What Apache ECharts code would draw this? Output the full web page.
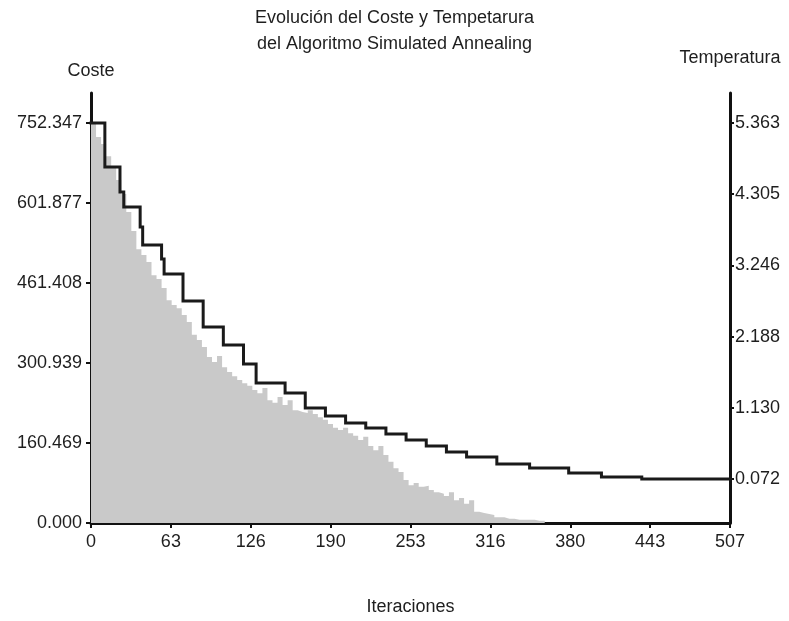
<!DOCTYPE html>
<html>
<head>
<meta charset="utf-8">
<script src="https://cdn.jsdelivr.net/npm/echarts@6/dist/echarts.min.js"></script>
<style>
html,body{margin:0;padding:0;background:#fff;}
#chart{width:789px;height:621px;}
</style>
</head>
<body>
<div id="chart"></div>
<script>
// ---- data ----
var titleText = 'Evolución del Coste y Tempetarura\ndel Algoritmo Simulated Annealing';
var xName = 'Iteraciones';
var leftName = 'Coste';
var rightName = 'Temperatura';

var xTickLabels = ['0','63','126','190','253','316','380','443','507'];
var xMax = 507;
var costTickLabels = ['0.000','160.469','300.939','461.408','601.877','752.347'];
var costMax = 752.347;
var tempTickLabels = ['0.072','1.130','2.188','3.246','4.305','5.363'];
var tempMin = 0.072, tempTop = 5.363;

// cost sampled every 4 iterations (0..360), then zero to the end
var costSampleStep = 4;
var costValues = [752,726,713,690,668,645,619,585,549,515,
  504,491,466,459,442,419,410,404,391,378,
  354,344,331,312,303,314,293,284,276,269,
  263,258,250,244,254,231,226,237,222,231,
  212,209,207,212,205,199,194,186,179,175,
  179,169,164,156,162,145,137,145,128,115,
  103,96,81,71,75,68,70,62,58,55,
  51,58,43,47,36,43,21,19,17,15,
  11,11,8,8,6,6,6,6,4,4,
  0];

var tempIterations = [0,11,23,26,39,41,56,58,73,89,105,121,131,154,170,186,202,218,234,250,266,282,298,322,348,379,405,437,507];
var tempValues = [5.363,4.709,4.338,4.115,3.818,3.550,3.342,3.119,2.718,2.331,2.064,1.781,1.499,1.350,1.127,1.008,0.904,0.830,0.741,0.652,0.563,0.473,0.399,0.295,0.235,0.161,0.102,0.072,0.072];

// ---- build ----
var costData = costValues.map(function(v,i){return [i*costSampleStep, v];});
costData.push([xMax, 0]);
var tempData = tempIterations.map(function(x,i){return [x, tempValues[i]];});

var xStep = xMax/(xTickLabels.length-1);
var xTicks = xTickLabels.map(function(_,i){return i*xStep;});
var cStep = costMax/(costTickLabels.length-1);
var cTicks = costTickLabels.map(function(_,i){return i*cStep;});
var tStep = (tempTop-tempMin)/(tempTickLabels.length-1);
var tTicks = tempTickLabels.map(function(_,i){return tempMin+i*tStep;});

var gridTop = 93, gridBottomY = 523;
var cPx = 400/costMax;
var costAxisMax = costMax + (123-gridTop)/cPx;
var tPx = (479-123)/(tempTop-tempMin);
var tAxisMax = tempTop + (123-gridTop)/tPx;
var tAxisMin = tempMin - (gridBottomY-479)/tPx;

var FONT = 'Liberation Sans, Arial, sans-serif';
var FS = 18;
var axisCol = '#111';
var txtCol = '#1e1e1e';

function lbl(labels, start, step){
  return function(v){var i=Math.round((v-start)/step);return labels[i]!==undefined?labels[i]:'';};
}

var chart = echarts.init(document.getElementById('chart'), null, {renderer:'canvas'});
chart.setOption({
  animation:false,
  backgroundColor:'#fff',
  title:{
    text:titleText, left:'center', top:0,
    textStyle:{fontFamily:FONT,fontSize:FS,fontWeight:'normal',color:txtCol,lineHeight:26}
  },
  grid:{left:91,right:59,top:gridTop,bottom:621-gridBottomY,containLabel:false,outerBoundsMode:'none'},
  xAxis:{
    type:'value', min:0, max:xMax, position:'bottom',
    name:xName, nameLocation:'middle', nameGap:75,
    nameTextStyle:{fontFamily:FONT,fontSize:FS,color:txtCol},
    axisLine:{show:true,onZero:false,lineStyle:{color:axisCol,width:3}},
    axisTick:{show:true,length:5,customValues:xTicks,lineStyle:{color:axisCol,width:2}},
    axisLabel:{customValues:xTicks,margin:10,fontFamily:FONT,fontSize:FS,color:txtCol,formatter:lbl(xTickLabels,0,xStep)},
    splitLine:{show:false}
  },
  yAxis:[{
    type:'value', position:'left', min:0, max:costAxisMax,
    name:leftName, nameLocation:'end', nameGap:13,
    nameTextStyle:{fontFamily:FONT,fontSize:FS,color:txtCol,align:'center'},
    axisLine:{show:true,onZero:false,lineStyle:{color:axisCol,width:3}},
    axisTick:{show:true,length:5,customValues:cTicks,lineStyle:{color:axisCol,width:2}},
    axisLabel:{customValues:cTicks,margin:9,fontFamily:FONT,fontSize:FS,color:txtCol,formatter:lbl(costTickLabels,0,cStep)},
    splitLine:{show:false}
  },{
    type:'value', position:'right', min:tAxisMin, max:tAxisMax,
    name:rightName, nameLocation:'end', nameGap:26,
    nameTextStyle:{fontFamily:FONT,fontSize:FS,color:txtCol,align:'center'},
    axisLine:{show:true,onZero:false,lineStyle:{color:axisCol,width:3}},
    axisTick:{show:true,length:4,customValues:tTicks,lineStyle:{color:axisCol,width:2}},
    axisLabel:{customValues:tTicks,margin:5,fontFamily:FONT,fontSize:FS,color:txtCol,formatter:lbl(tempTickLabels,tempMin,tStep)},
    splitLine:{show:false}
  }],
  series:[{
    type:'line', yAxisIndex:0, data:costData, step:'end',
    showSymbol:false, silent:true, z:1,
    lineStyle:{width:0,color:'#c9c9c9'},
    areaStyle:{color:'#c9c9c9',opacity:1}
  },{
    type:'line', yAxisIndex:1, data:tempData, step:'end',
    showSymbol:false, silent:true, z:3,
    lineStyle:{width:3,color:'#1a1a1a',join:'miter',cap:'square'}
  }]
});
</script>
</body>
</html>
